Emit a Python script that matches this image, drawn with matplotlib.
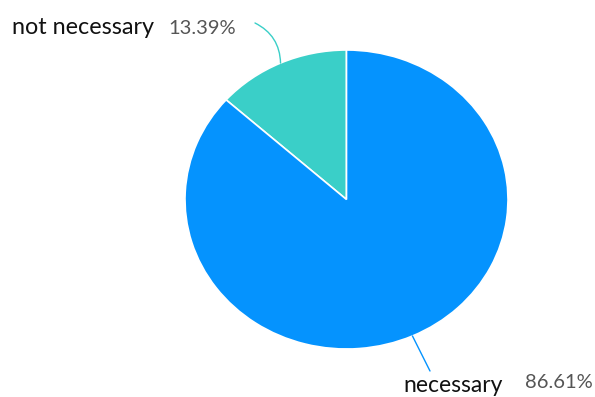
import matplotlib
matplotlib.use("Agg")
import matplotlib.pyplot as plt
import numpy as np

labels = ["not necessary", "necessary"]
values = [13.39, 86.61]
colors = ["#3ACFC8", "#0593FE"]
pct_labels = ["13.39%", "86.61%"]

W, H = 595, 397
fig = plt.figure(figsize=(W / 100, H / 100), dpi=100)

# pie bounding box in pixels (slightly elliptical in the original)
left, right, top, bottom = 185, 508, 50, 349
ax = fig.add_axes([left / W, 1 - bottom / H, (right - left) / W, (bottom - top) / H])
wedges, _ = ax.pie(values, colors=colors, startangle=90, counterclock=True,
                   wedgeprops=dict(edgecolor="white", linewidth=1.2))
ax.set_aspect("auto")
ax.set_xlim(-1, 1)
ax.set_ylim(-1, 1)

# leader lines from wedge midpoints to label areas (figure pixels, y up)
ends = [(255, H - 23), (430, H - 371)]
rads = [0.3, 0.0]
for w, end, rad in zip(wedges, ends, rads):
    ang = np.deg2rad((w.theta1 + w.theta2) / 2)
    ax.annotate("", xy=end, xycoords="figure pixels",
                xytext=(np.cos(ang), np.sin(ang)), textcoords="data",
                arrowprops=dict(arrowstyle="-", color=w.get_facecolor(),
                                lw=1, connectionstyle=f"arc3,rad={rad}",
                                shrinkA=0, shrinkB=0))

font = "Lato"
fig.text(12 / W, 1 - 27 / H, labels[0], fontsize=16.8, color="#111111",
         family=font, va="center", ha="left")
fig.text(168 / W, 1 - 28 / H, pct_labels[0], fontsize=14.5, color="#555555",
         family=font, va="center", ha="left")
fig.text(403 / W, 1 - 385 / H, labels[1], fontsize=16.5, color="#111111",
         family=font, va="center", ha="left")
fig.text(525 / W, 1 - 382 / H, pct_labels[1], fontsize=14.5, color="#555555",
         family=font, va="center", ha="left")

fig.savefig("out.png", dpi=100)
